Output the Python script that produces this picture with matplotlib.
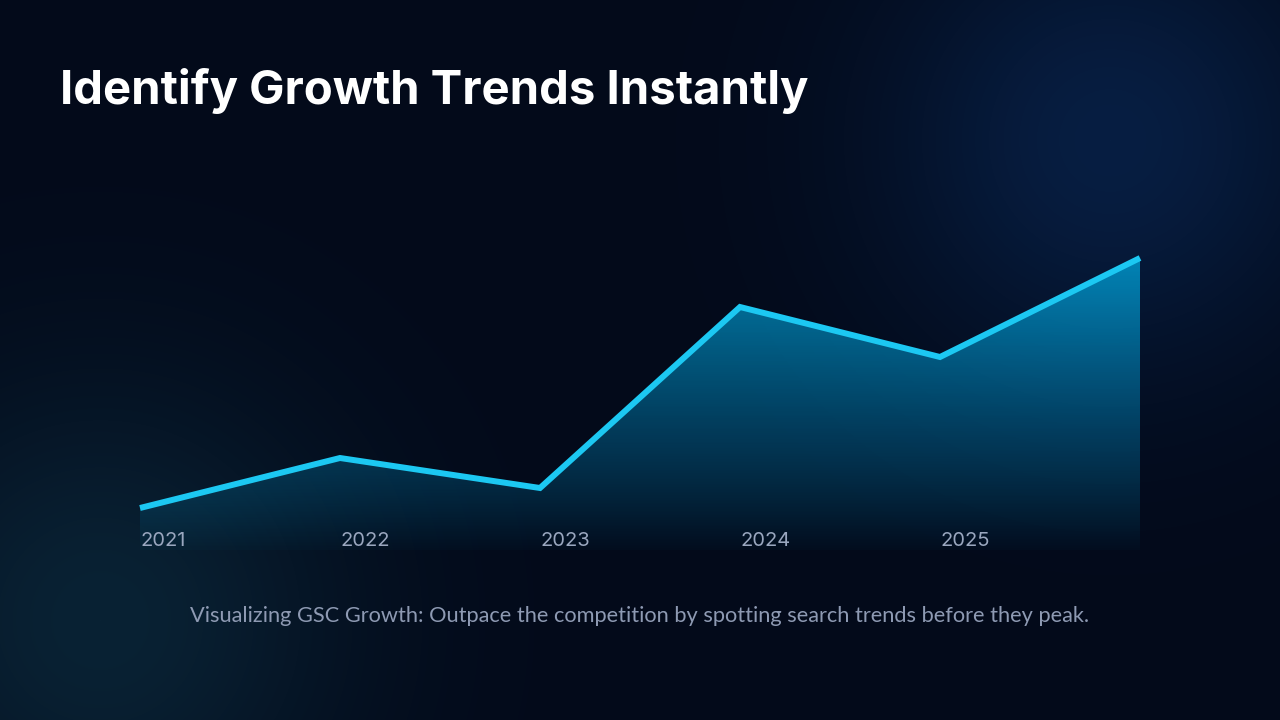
import numpy as np
import matplotlib.pyplot as plt
from matplotlib.colors import LinearSegmentedColormap

years = ['2021', '2022', '2023', '2024', '2025']
growth = [42, 92, 62, 243, 193, 292]   # last point has no label in the original

W, H = 1280, 720
fig = plt.figure(figsize=(12.8, 7.2), dpi=100)

# background with soft glows
bg_ax = fig.add_axes([0, 0, 1, 1])
yy, xx = np.mgrid[0:H, 0:W]
base = np.array([3, 10, 26]) / 255.0
img = np.ones((H, W, 3)) * base
g1 = np.exp(-(((xx - 1110) ** 2 + (yy - 140) ** 2) / (2 * 160.0 ** 2)))
img += g1[..., None] * (np.array([7, 30, 66]) / 255.0 - base)
g2 = np.exp(-(((xx - 100) ** 2 + (yy - 620) ** 2) / (2 * 170.0 ** 2)))
img += g2[..., None] * (np.array([9, 34, 52]) / 255.0 - base)
bg_ax.imshow(np.clip(img, 0, 1), extent=[0, W, H, 0], aspect='auto')
bg_ax.set_xlim(0, W)
bg_ax.set_ylim(H, 0)
bg_ax.axis('off')

# chart area: x from 140 to 1140 px, y=0 at 550 px
ax = fig.add_axes([140 / W, (H - 550) / H, 1000 / W, 300 / H])
ax.patch.set_alpha(0)
x = np.arange(len(growth))

# gradient area fill
cmap = LinearSegmentedColormap.from_list('fade', [(0.0, (0.0, 0.75, 1.0, 0.0)),
                                                  (0.4, (0.0, 0.65, 0.9, 0.3)),
                                                  (1.0, (0.0, 0.72, 0.95, 0.68))])
grad = np.linspace(0, 1, 256).reshape(-1, 1)
im = ax.imshow(grad, cmap=cmap, extent=[0, len(growth) - 1, -8, max(growth)],
               origin='lower', aspect='auto', zorder=1)
poly = ax.fill_between(x, growth, -8, color='none', lw=0)
im.set_clip_path(poly.get_paths()[0], transform=ax.transData)

ax.plot(x, growth, color='#1cc8f2', lw=4.3, solid_joinstyle='miter',
        solid_capstyle='butt', zorder=3, clip_on=False)

for i, yr in enumerate(years):
    ax.text(i, 9, yr, ha='left', va='center', fontsize=14.5, color='#9aa7bf',
            family='Inter', clip_on=False, zorder=4)
ax.set_xlim(0, len(growth) - 1)
ax.set_ylim(0, 300)
ax.axis('off')

fig.text(60 / W, 1 - 91 / H, 'Identify Growth Trends Instantly', ha='left', va='center',
         fontsize=34, fontweight='bold', color='white', family='Inter', zorder=10)
fig.text(640 / W, 1 - 616 / H,
         'Visualizing GSC Growth: Outpace the competition by spotting search trends before they peak.',
         ha='center', va='center', fontsize=15.7, color='#8e9ab3', family='Lato',
         zorder=10)

fig.savefig('out.png', dpi=100)
